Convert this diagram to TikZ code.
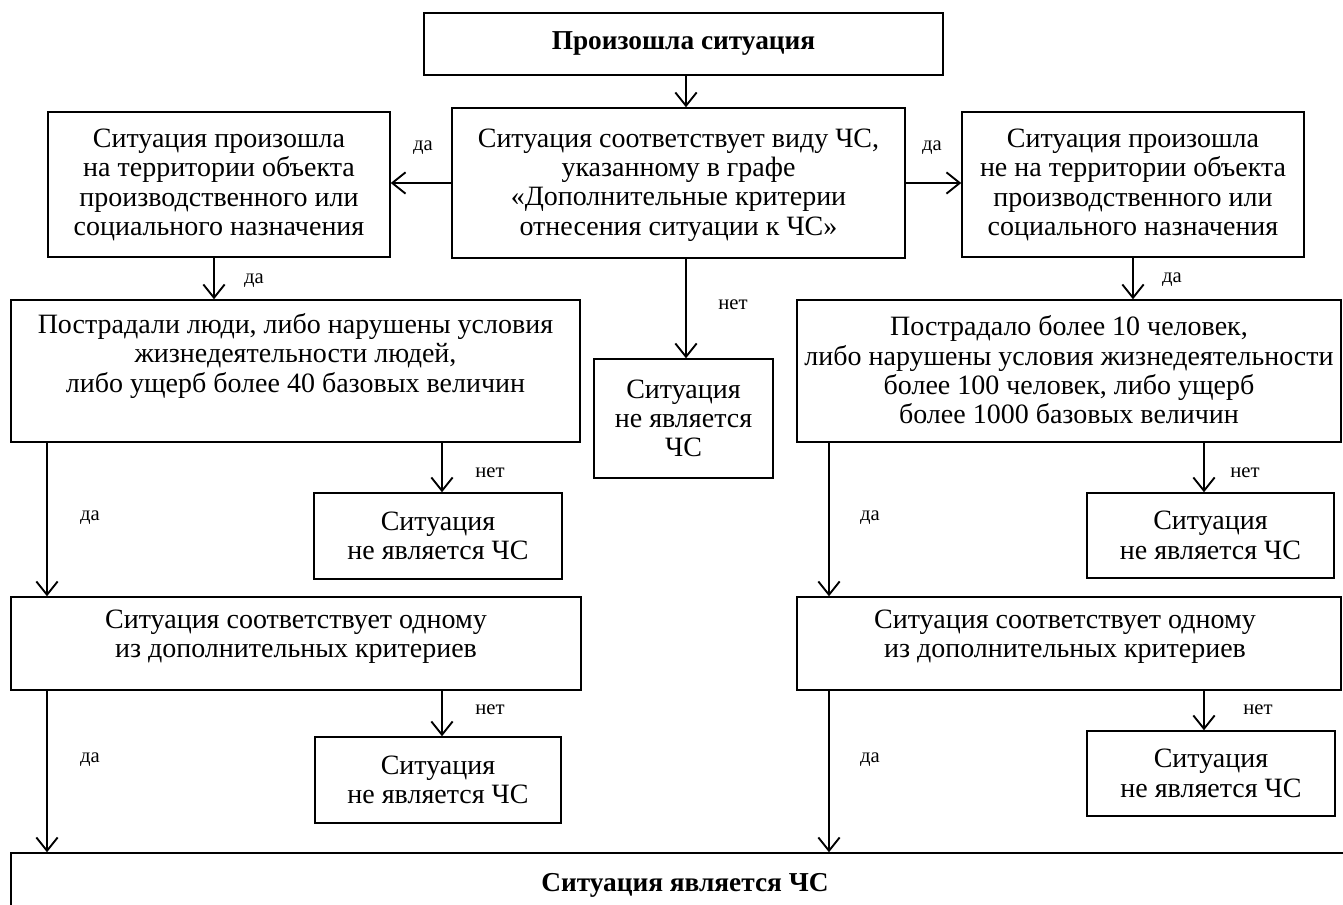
\documentclass[tikz,border=0pt]{standalone}
\usepackage{fontspec}
\setmainfont{Liberation Serif}
\usetikzlibrary{arrows.meta}
\tikzset{
  box/.style={draw, line width=1.1pt, inner sep=0pt},
  txt/.style={align=center, inner sep=0pt, font=\fontsize{21}{22}\selectfont},
  btxt/.style={align=center, inner sep=0pt, font=\fontsize{20.5}{22}\selectfont\bfseries},
  lbl/.style={inner sep=0pt, font=\fontsize{15.5}{17}\selectfont},
  arr/.style={line width=1.5pt, -{Straight Barb[length=10pt, width=16pt, line width=1.4pt]}},
}
\begin{document}
\begin{tikzpicture}[x=0.75pt, y=-0.75pt]
\useasboundingbox (0,0) rectangle (1343,905);
\clip (0,0) rectangle (1343,905);
\fill[white] (0,0) rectangle (1343,905);
% boxes: center, width, height (in px)
\node[box, minimum width=519*0.75pt, minimum height=62*0.75pt] (top) at (683.5,44) {};
\node[btxt] (topt) at (683.5,44) {Произошла ситуация};

\node[box, minimum width=453*0.75pt, minimum height=150*0.75pt] (ctr) at (678.5,183) {};
\node[txt] (ctrt) at (678.5,185) {Ситуация соответствует виду ЧС,\\указанному в графе\\«Дополнительные критерии\\отнесения ситуации к ЧС»};

\node[box, minimum width=342*0.75pt, minimum height=145*0.75pt] (l1) at (219,184.5) {};
\node[txt] (l1t) at (219,185) {Ситуация произошла\\на территории объекта\\производственного или\\социального назначения};

\node[box, minimum width=342*0.75pt, minimum height=145*0.75pt] (r1) at (1133,184.5) {};
\node[txt] (r1t) at (1133,185) {Ситуация произошла\\не на территории объекта\\производственного или\\социального назначения};

\node[box, minimum width=569*0.75pt, minimum height=142*0.75pt] (l2) at (295.5,371) {};
\node[txt] (l2t) at (295.5,356) {Пострадали люди, либо нарушены условия\\жизнедеятельности людей,\\либо ущерб более 40 базовых величин};

\node[box, minimum width=544*0.75pt, minimum height=142*0.75pt] (r2) at (1069,371) {};
\node[txt] (r2t) at (1069,370) {Пострадало более 10 человек,\\либо нарушены условия жизнедеятельности\\более 100 человек, либо ущерб\\более 1000 базовых величин};

\node[box, minimum width=179*0.75pt, minimum height=119*0.75pt] (cnc) at (683.5,418.5) {};
\node[txt] (cnct) at (683.5,418.5) {Ситуация\\не является\\ЧС};

\node[box, minimum width=248*0.75pt, minimum height=86*0.75pt] (lnc1) at (438,536) {};
\node[txt] (lnc1t) at (438,536) {Ситуация\\не является ЧС};

\node[box, minimum width=247*0.75pt, minimum height=85*0.75pt] (rnc1) at (1210.5,535.5) {};
\node[txt] (rnc1t) at (1210.5,535.5) {Ситуация\\не является ЧС};

\node[box, minimum width=570*0.75pt, minimum height=93*0.75pt] (l3) at (296,643.5) {};
\node[txt] (l3t) at (296,637) {Ситуация соответствует одному\\из дополнительных критериев};

\node[box, minimum width=544*0.75pt, minimum height=93*0.75pt] (r3) at (1069,643.5) {};
\node[txt] (r3t) at (1065,637) {Ситуация соответствует одному\\из дополнительных критериев};

\node[box, minimum width=246*0.75pt, minimum height=86*0.75pt] (lnc2) at (438,780) {};
\node[txt] (lnc2t) at (438,780) {Ситуация\\не является ЧС};

\node[box, minimum width=248*0.75pt, minimum height=85*0.75pt] (rnc2) at (1211,773.5) {};
\node[txt] (rnc2t) at (1211,773.5) {Ситуация\\не является ЧС};

\node[box, minimum width=1359*0.75pt, minimum height=80*0.75pt] (bot) at (690.5,893) {};
\node[btxt] (bott) at (685,885) {Ситуация является ЧС};

% arrow x positions
\coordinate (xa) at (214,0);
\coordinate (xl) at (47,0);
\coordinate (xln) at (442,0);
\coordinate (xr) at (829,0);
\coordinate (xrb) at (1133,0);
\coordinate (xrn) at (1204,0);
\coordinate (xc) at (686,0);

\draw[arr] (top.south -| xc) -- (ctr.north -| xc);
\draw[arr] (ctr.west) -- (ctr.west -| l1.east);
\draw[arr] (ctr.east) -- (ctr.east -| r1.west);
\draw[arr] (ctr.south -| xc) -- (cnc.north -| xc);
\draw[arr] (l1.south -| xa) -- (l2.north -| xa);
\draw[arr] (r1.south -| xrb) -- (r2.north -| xrb);
\draw[arr] (l2.south -| xl) -- (l3.north -| xl);
\draw[arr] (l2.south -| xln) -- (lnc1.north -| xln);
\draw[arr] (r2.south -| xr) -- (r3.north -| xr);
\draw[arr] (r2.south -| xrn) -- (rnc1.north -| xrn);
\draw[arr] (l3.south -| xl) -- (bot.north -| xl);
\draw[arr] (l3.south -| xln) -- (lnc2.north -| xln);
\draw[arr] (r3.south -| xr) -- (bot.north -| xr);
\draw[arr] (r3.south -| xrn) -- (rnc2.north -| xrn);

% labels
\node[lbl] (d1) at (423,148) {да};
\node[lbl] (d2) at (932,148) {да};
\node[lbl] (d3) at (254,281) {да};
\node[lbl] (d4) at (1172,280) {да};
\node[lbl] (d5) at (90,518) {да};
\node[lbl] (d6) at (870,518) {да};
\node[lbl] (d7) at (90,760) {да};
\node[lbl] (d8) at (870,760) {да};
\node[lbl] (n1) at (733,305) {нет};
\node[lbl] (n2) at (490,473) {нет};
\node[lbl] (n3) at (1245,473) {нет};
\node[lbl] (n4) at (490,710) {нет};
\node[lbl] (n5) at (1258,710) {нет};
\end{tikzpicture}
\end{document}
